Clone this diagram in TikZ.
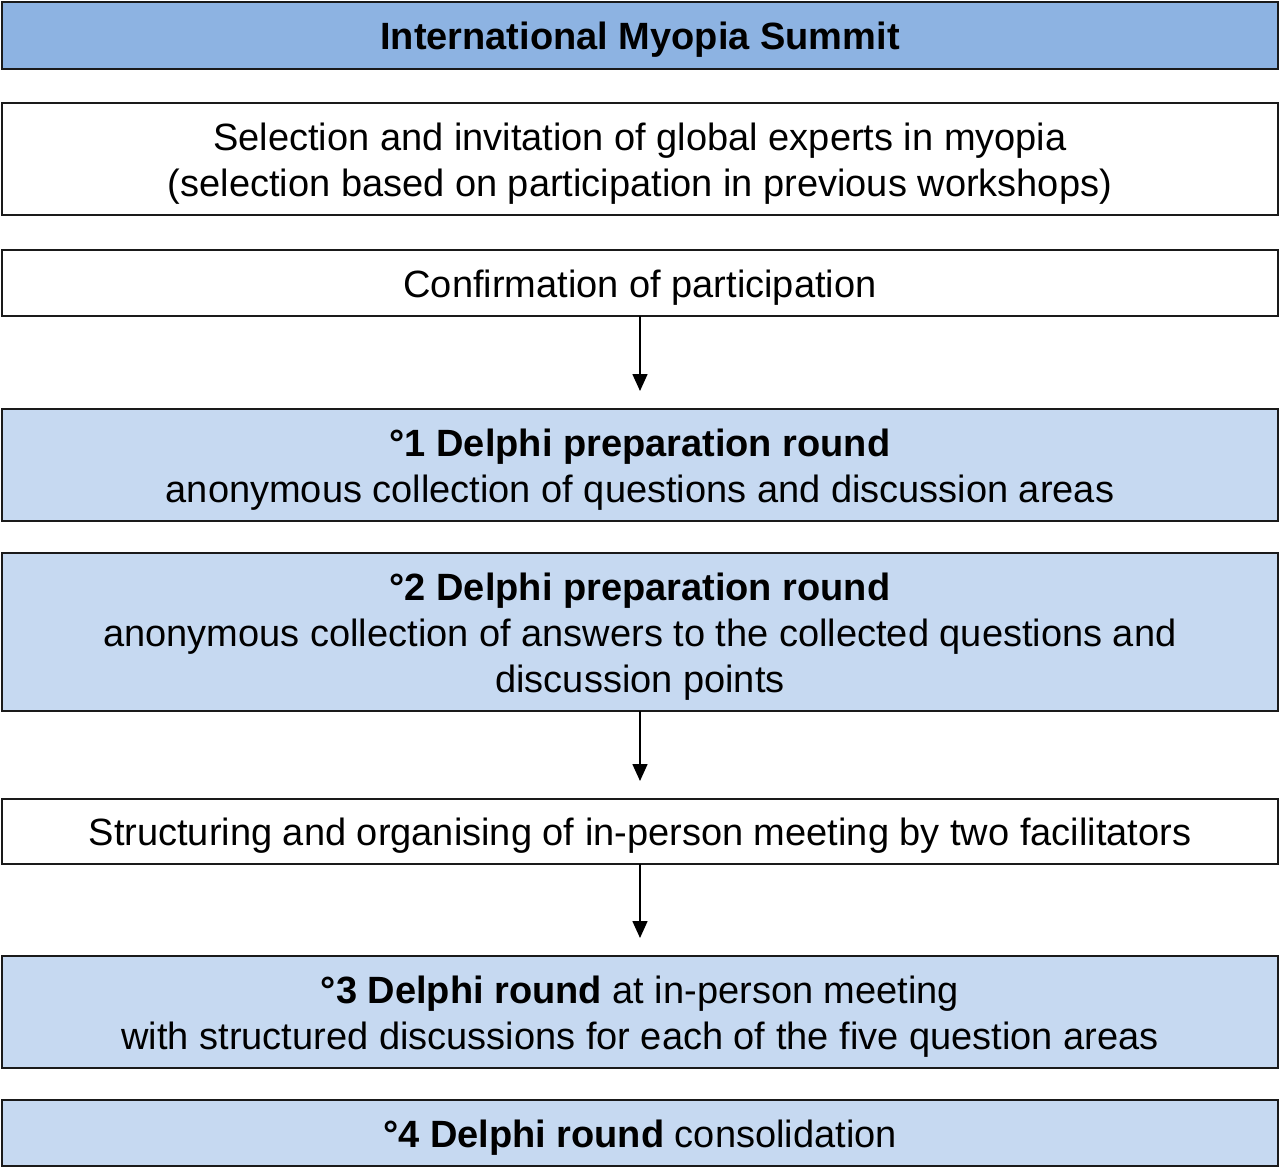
\documentclass[tikz,border=0pt]{standalone}
\usepackage{fontspec}
\setmainfont{Liberation Sans}
\usetikzlibrary{positioning, arrows.meta}
\definecolor{headblue}{RGB}{141,179,226}
\definecolor{paleblue}{RGB}{198,217,241}
\definecolor{edgegray}{RGB}{26,26,26}
\newcommand\wbox{1276pt}
\newcommand\hone{66pt}
\newcommand\htwo{112pt}
\newcommand\hthree{158pt}
\newcommand\linestrut{\rule[-9pt]{0pt}{46pt}}

\tikzset{
  stepbox/.style={draw=edgegray, line width=1.8pt, outer sep=0pt, inner sep=0pt,
    text width=\wbox, align=flush center, font=\fontsize{38}{46}\selectfont,
    execute at begin node=\linestrut, execute at end node=\linestrut},
  whitebox/.style={stepbox, fill=white},
  bluebox/.style={stepbox, fill=paleblue},
  headbox/.style={stepbox, fill=headblue},
  flow/.style={-{Triangle[width=15pt,length=17pt]}, line width=1.6pt, shorten >=18pt}
}

\begin{document}
\begin{tikzpicture}
    \useasboundingbox (0,0) rectangle (1280pt,-1172pt);

    \node (summit) [headbox, minimum height=67pt, anchor=north] at (640pt,-2pt) {\textbf{International Myopia Summit}};
    \node (select) [whitebox, minimum height=\htwo, below=34pt of summit] {Selection and invitation of global experts in myopia\\(selection based on participation in previous workshops)};
    \node (confirm) [whitebox, minimum height=\hone, below=35pt of select] {Confirmation of participation};

    \node (prep1) [bluebox, minimum height=\htwo, below=93pt of confirm] {\textbf{°1 Delphi preparation round}\\anonymous collection of questions and discussion areas};
    \node (prep2) [bluebox, minimum height=\hthree, below=32pt of prep1] {\textbf{°2 Delphi preparation round}\\anonymous collection of answers to the collected questions and\\discussion points};

    \node (organise) [whitebox, minimum height=65pt, below=88pt of prep2] {Structuring and organising of in-person meeting by two facilitators};
    \node (round3) [bluebox, minimum height=\htwo, below=92pt of organise] {\textbf{°3 Delphi round} at in-person meeting\\with structured discussions for each of the five question areas};
    \node (round4) [bluebox, minimum height=\hone, below=32pt of round3] {\textbf{°4 Delphi round} consolidation};

    \draw[flow] (confirm) -- (prep1);
    \draw[flow] (prep2) -- (organise);
    \draw[flow] (organise) -- (round3);

\end{tikzpicture}
\end{document}
